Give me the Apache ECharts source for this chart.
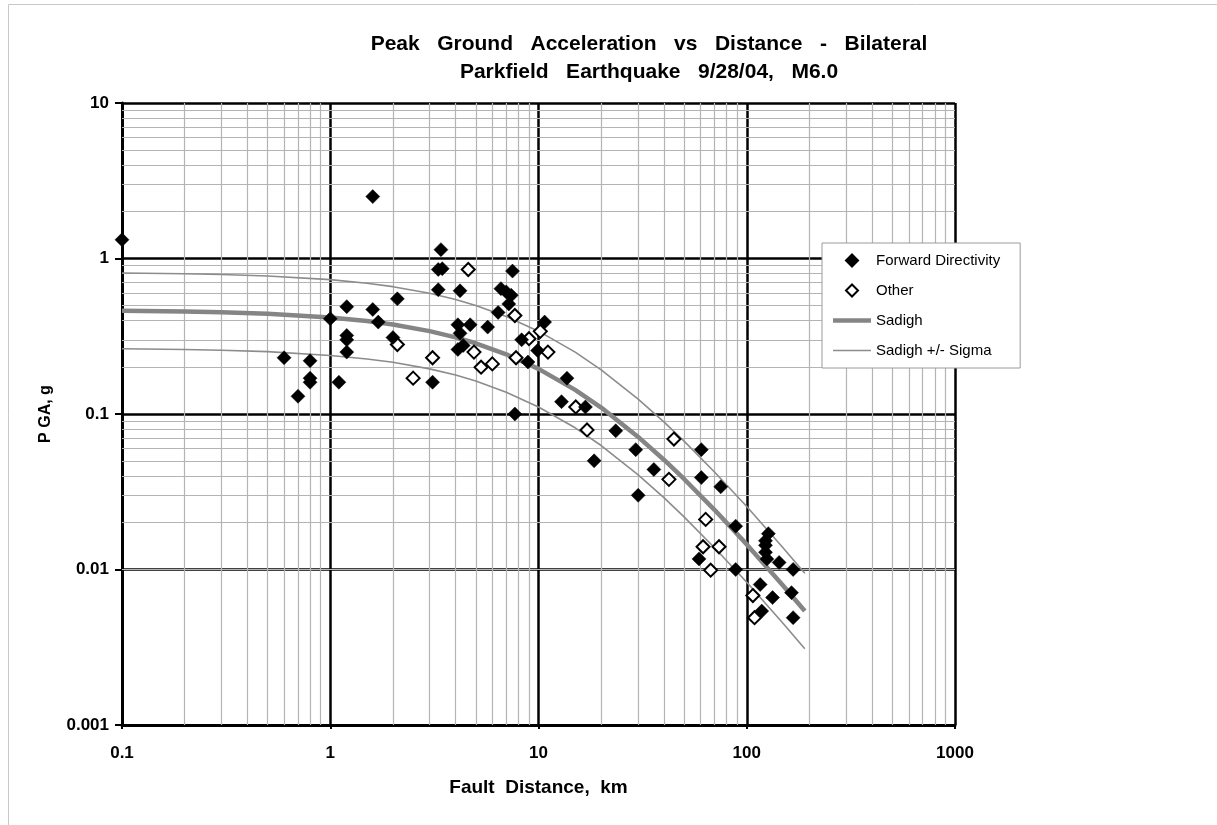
<!DOCTYPE html>
<html>
<head>
<meta charset="utf-8">
<script src="https://cdn.jsdelivr.net/npm/echarts@6/dist/echarts.min.js"></script>
<style>
html,body{margin:0;padding:0;background:#fff;}
#chart{width:1217px;height:825px;}
</style>
</head>
<body>
<div id="chart"></div>
<script>
// ---------- data ----------
var titleLines = ['Peak   Ground   Acceleration   vs   Distance   -   Bilateral', 'Parkfield   Earthquake   9/28/04,   M6.0'];
var xAxisName = 'Fault  Distance,  km';
var yAxisName = 'P GA, g';
var xTickLabels = ['0.1', '1', '10', '100', '1000'];
var yTickLabels = ['0.001', '0.01', '0.1', '1', '10'];
var seriesNames = ['Forward Directivity', 'Other', 'Sadigh', 'Sadigh +/- Sigma'];

// Forward Directivity (filled diamonds): distance km, PGA g
var fdDist = [0.1, 0.6, 0.7, 0.8, 0.8, 0.8, 1.1, 1.0, 1.2, 1.2, 1.2, 1.2, 1.6, 1.6, 1.7, 2.1, 2.0, 3.1,
  3.4, 3.3, 3.45, 3.3, 4.2, 4.1, 4.2, 4.7, 4.1, 4.35, 5.7, 6.6, 7.4, 7.2, 6.4, 7.5, 7.0, 8.3, 10.7, 9.9, 8.9,
  7.7, 13.7, 12.9, 16.8, 23.5, 18.5, 29.3, 35.8, 30.1, 60.5, 60.5, 75, 88.5, 59, 88.5, 127, 123, 123, 123,
  125, 143, 167, 116, 133, 164, 118, 167];
var fdPga = [1.32, 0.23, 0.13, 0.22, 0.17, 0.16, 0.16, 0.41, 0.49, 0.32, 0.30, 0.25, 2.5, 0.47, 0.39, 0.55, 0.31, 0.16,
  1.14, 0.85, 0.86, 0.63, 0.62, 0.375, 0.33, 0.375, 0.26, 0.276, 0.362, 0.64, 0.58, 0.51, 0.45, 0.83, 0.61, 0.30, 0.39, 0.256, 0.216,
  0.10, 0.17, 0.12, 0.111, 0.078, 0.050, 0.059, 0.044, 0.030, 0.059, 0.039, 0.034, 0.019, 0.0117, 0.010, 0.0170, 0.0153, 0.0143, 0.0129,
  0.0117, 0.0111, 0.0100, 0.0080, 0.0066, 0.0071, 0.0054, 0.0049];

// Other (open diamonds)
var otDist = [4.6, 2.1, 3.1, 2.5, 4.9, 5.3, 6.0, 7.7, 7.8, 9.0, 10.2, 11.1, 15.1, 17.1, 44.7, 42.3, 63.5, 61.7, 73.6, 67.1, 107, 109];
var otPga = [0.85, 0.28, 0.23, 0.17, 0.25, 0.20, 0.21, 0.43, 0.23, 0.305, 0.34, 0.25, 0.111, 0.079, 0.069, 0.038, 0.021, 0.014, 0.014, 0.0099, 0.0068, 0.0049];

// Sadigh curve and +/- sigma curves
var curveDist = [0.1, 0.2, 0.3, 0.5, 1, 1.5, 2, 3, 4, 5, 7, 10, 15, 20, 30, 40, 50, 70, 100, 150, 190];
var sadighPga = [0.461, 0.456, 0.451, 0.441, 0.417, 0.396, 0.376, 0.341, 0.311, 0.285, 0.242, 0.195, 0.143, 0.110, 0.0715, 0.0508, 0.0382, 0.0242, 0.0145, 0.00784, 0.00541];
var sadighUpper = [0.807, 0.798, 0.789, 0.772, 0.731, 0.693, 0.659, 0.597, 0.545, 0.499, 0.424, 0.341, 0.250, 0.192, 0.125, 0.0890, 0.0669, 0.0424, 0.0254, 0.0137, 0.00947];
var sadighLower = [0.263, 0.260, 0.257, 0.252, 0.238, 0.226, 0.215, 0.195, 0.178, 0.163, 0.138, 0.111, 0.0815, 0.0627, 0.0408, 0.0290, 0.0218, 0.0138, 0.00828, 0.00448, 0.00309];

// ---------- build ----------
function zip(a, b) { return a.map(function (v, i) { return [v, b[i]]; }); }
function minorValues(lo, hi) {
  var out = [];
  for (var d = lo; d < hi; d *= 10) {
    for (var m = 2; m <= 9; m++) out.push(+(d * m).toPrecision(3));
  }
  return out;
}
function tickFormatter(labels, minExp) {
  return function (v) {
    var idx = Math.round(Math.log10(v)) - minExp;
    return labels[idx] !== undefined ? labels[idx] : '';
  };
}

var FONT = '"Liberation Sans", Arial, sans-serif';
var diamondPath = 'path://M0,-10 L10,0 L0,10 L-10,0 Z';
var thickLinePath = 'path://M0,0 L38,0 L38,4.5 L0,4.5 Z';
var thinLinePath = 'path://M0,0 L38,0 L38,1.6 L0,1.6 Z';

var gridLines = [];
minorValues(0.1, 1000).forEach(function (v) { gridLines.push({ xAxis: v }); });
minorValues(0.001, 10).forEach(function (v) { gridLines.push({ yAxis: v }); });

var chart = echarts.init(document.getElementById('chart'), null, { renderer: 'canvas' });
chart.setOption({
  animation: false,
  backgroundColor: '#ffffff',
  title: [
    { text: titleLines[0], left: 644, top: 29, textAlign: 'center',
      textStyle: { fontFamily: FONT, fontWeight: 'bold', fontSize: 21, color: '#000' } },
    { text: titleLines[1], left: 644, top: 57, textAlign: 'center',
      textStyle: { fontFamily: FONT, fontWeight: 'bold', fontSize: 21, color: '#000' } }
  ],
  graphic: [{
    type: 'rect', silent: true, z: -10,
    shape: { x: 8.5, y: 4.5, width: 1400, height: 1000 },
    style: { fill: 'none', stroke: '#c8c8c8', lineWidth: 1 }
  }],
  legend: {
    z: 50,
    data: [
      { name: seriesNames[0], icon: diamondPath },
      { name: seriesNames[1], icon: diamondPath },
      { name: seriesNames[2], icon: thickLinePath },
      { name: seriesNames[3], icon: thinLinePath }
    ],
    orient: 'vertical',
    left: 822, top: 243,
    itemWidth: 38, itemHeight: 12, itemGap: 15,
    padding: [10, 20, 10, 11],
    backgroundColor: '#ffffff',
    borderColor: '#9a9a9a', borderWidth: 1,
    textStyle: { fontFamily: FONT, fontSize: 15, color: '#000' },
    selectedMode: false
  },
  grid: { left: 122, right: 262, top: 103, bottom: 100, containLabel: false },
  xAxis: {
    type: 'log', logBase: 10, min: 0.1, max: 1000,
    name: xAxisName, nameLocation: 'middle', nameGap: 53,
    nameTextStyle: { fontFamily: FONT, fontWeight: 'bold', fontSize: 19, color: '#000' },
    axisLine: { show: true, onZero: false, lineStyle: { color: '#000', width: 3 } },
    axisTick: { show: true, inside: false, length: 4, lineStyle: { color: '#000', width: 2 } },
    axisLabel: { margin: 20, fontFamily: FONT, fontWeight: 'bold', fontSize: 17, color: '#000',
      formatter: tickFormatter(xTickLabels, -1) },
    splitLine: { show: true, lineStyle: { color: '#000', width: 2.5 } },
    minorTick: { show: false }, minorSplitLine: { show: false }
  },
  yAxis: {
    type: 'log', logBase: 10, min: 0.001, max: 10,
    name: yAxisName, nameLocation: 'middle', nameGap: 68, nameRotate: 90,
    nameTextStyle: { fontFamily: FONT, fontWeight: 'bold', fontSize: 16, color: '#000' },
    axisLine: { show: true, onZero: false, lineStyle: { color: '#000', width: 3 } },
    axisTick: { show: true, inside: false, length: 7, lineStyle: { color: '#000', width: 2 } },
    axisLabel: { margin: 13, fontFamily: FONT, fontWeight: 'bold', fontSize: 17, color: '#000',
      formatter: tickFormatter(yTickLabels, -3) },
    splitLine: { show: true, lineStyle: { color: '#000', width: 2.5 } },
    minorTick: { show: false }, minorSplitLine: { show: false }
  },
  series: [
    {
      name: '__grid', type: 'scatter', data: [], silent: true, z: 1,
      markLine: {
        z: 1,
        silent: true, symbol: ['none', 'none'], animation: false,
        label: { show: false },
        lineStyle: { color: '#b4b4b4', width: 1.2, type: 'solid' },
        emphasis: { disabled: true },
        data: gridLines
      }
    },
    {
      name: seriesNames[3], type: 'line', data: zip(curveDist, sadighUpper),
      symbol: 'none', showSymbol: false, smooth: false, z: 3,
      lineStyle: { color: '#8c8c8c', width: 1.6 }, itemStyle: { color: '#8c8c8c' }
    },
    {
      name: seriesNames[3], type: 'line', data: zip(curveDist, sadighLower),
      symbol: 'none', showSymbol: false, smooth: false, z: 3,
      lineStyle: { color: '#8c8c8c', width: 1.6 }, itemStyle: { color: '#8c8c8c' }
    },
    {
      name: seriesNames[2], type: 'line', data: zip(curveDist, sadighPga),
      symbol: 'none', showSymbol: false, smooth: false, z: 4,
      lineStyle: { color: '#858585', width: 4.5 }, itemStyle: { color: '#858585' }
    },
    {
      name: seriesNames[1], type: 'scatter', data: zip(otDist, otPga),
      symbol: 'diamond', symbolSize: 13, z: 6,
      itemStyle: { color: '#ffffff', borderColor: '#000', borderWidth: 2, opacity: 1 }
    },
    {
      name: seriesNames[0], type: 'scatter', data: zip(fdDist, fdPga),
      symbol: 'diamond', symbolSize: 14, z: 7,
      itemStyle: { color: '#000', borderColor: '#000', borderWidth: 0.5, opacity: 1 }
    }
  ]
});
</script>
</body>
</html>
